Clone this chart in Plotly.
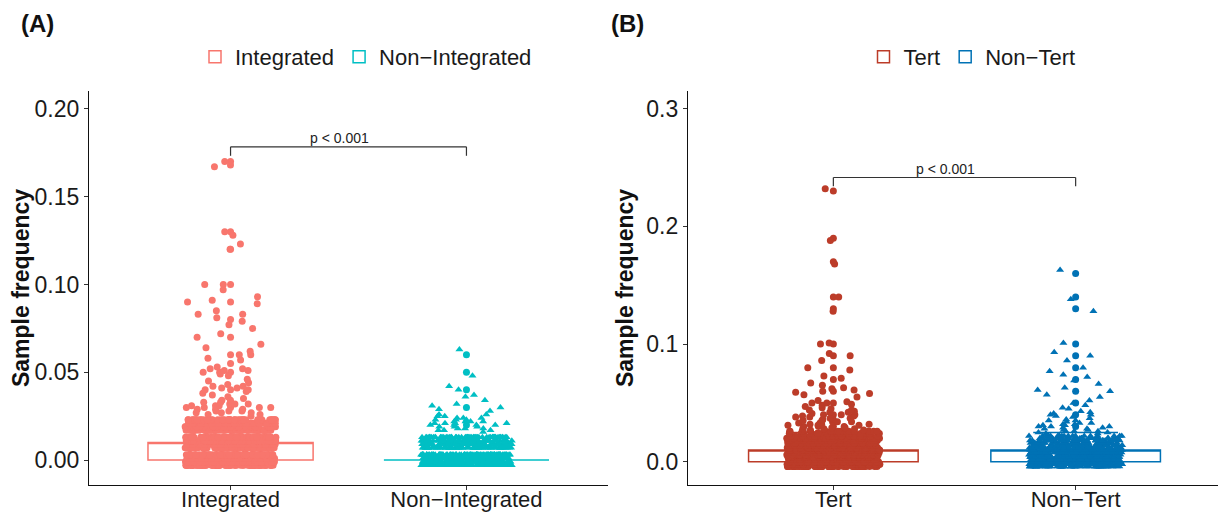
import numpy as np
import plotly.graph_objects as go

FONT = "Liberation Sans"

# ---------------- data (panel A) ----------------
A_CATS = ["Integrated", "Non\u2212Integrated"]
A_COLORS = ["#F8766D", "#00BFC4"]
A_SYMBOLS = ["circle", "triangle-up"]

# box statistics
A_Q1 = [0.0, 0.0]
A_MED = [0.01, 0.0]
A_Q3 = [0.01, 0.0]
A_LF = [0.0, 0.0]
A_UF = [0.02, 0.0]

# dense core: displayed levels and counts
INT_CORE_Y = [-0.003, -0.001, 0.001, 0.003, 0.007, 0.009, 0.011, 0.013, 0.017, 0.019, 0.021, 0.023]
INT_CORE_N = [75, 85, 85, 75, 70, 75, 75, 70, 60, 65, 55, 40]
INT_MID = [0.025, 0.026, 0.026, 0.027, 0.027, 0.027, 0.028, 0.028, 0.028, 0.029, 0.029, 0.029,
           0.030, 0.030, 0.030, 0.030, 0.031, 0.031, 0.031, 0.032, 0.032, 0.032, 0.033, 0.033,
           0.034, 0.034, 0.035, 0.036, 0.037, 0.038, 0.039, 0.040, 0.040, 0.041, 0.041, 0.042,
           0.042, 0.043, 0.044, 0.045, 0.046, 0.048, 0.049, 0.050, 0.050, 0.051, 0.051, 0.052,
           0.052, 0.053, 0.055, 0.057, 0.058, 0.060, 0.060]
INT_HIGH = [0.062, 0.064, 0.066, 0.070, 0.072, 0.075, 0.077, 0.079, 0.081, 0.083, 0.083, 0.085,
            0.089, 0.090, 0.091, 0.093, 0.097, 0.100, 0.100, 0.120, 0.123, 0.128, 0.130,
            0.167, 0.168, 0.170]
INT_OUT = [0.03, 0.04, 0.05, 0.06, 0.07, 0.08, 0.09, 0.10, 0.12, 0.13, 0.17]

NI_CORE_Y = [-0.003, -0.001, 0.001, 0.003, 0.007, 0.009, 0.011, 0.013]
NI_CORE_N = [95, 105, 105, 95, 65, 70, 70, 60]
NI_MID = [0.016, 0.017, 0.017, 0.017, 0.018, 0.018, 0.018, 0.019, 0.019, 0.019, 0.020, 0.020,
          0.020, 0.020, 0.021, 0.021, 0.021, 0.021, 0.022, 0.022, 0.022, 0.022, 0.023, 0.023,
          0.023, 0.024, 0.024, 0.024, 0.025, 0.025, 0.026, 0.026]
NI_HIGH = [0.028, 0.029, 0.030, 0.031, 0.032, 0.034, 0.036, 0.037, 0.040, 0.042, 0.048, 0.063]
NI_OUT = [0.01, 0.02, 0.03, 0.04, 0.05, 0.06]

# ---------------- data (panel B) ----------------
B_CATS = ["Tert", "Non\u2212Tert"]
B_COLORS = ["#BC3C29", "#0072B5"]
B_SYMBOLS = ["circle", "triangle-up"]

B_Q1 = [0.0, 0.0]
B_MED = [0.01, 0.01]
B_Q3 = [0.01, 0.01]
B_LF = [0.0, 0.0]
B_UF = [0.025, 0.025]

TERT_CORE_Y = [-0.004, -0.002, 0.000, 0.002, 0.004, 0.006, 0.008, 0.010, 0.012, 0.014,
               0.016, 0.018, 0.020, 0.022, 0.024, 0.026]
TERT_CORE_N = [60, 70, 70, 70, 62, 58, 62, 62, 56, 50, 45, 42, 36, 30, 24, 18]
TERT_MID = [0.026, 0.027, 0.027, 0.028, 0.028, 0.028, 0.029, 0.029, 0.030, 0.030, 0.030, 0.031,
            0.031, 0.031, 0.032, 0.032, 0.032, 0.033, 0.033, 0.034, 0.034, 0.034, 0.035, 0.035,
            0.036, 0.036, 0.037, 0.037, 0.038, 0.038, 0.039, 0.039, 0.040, 0.040, 0.040, 0.041,
            0.042, 0.042, 0.043, 0.044, 0.044, 0.045, 0.046, 0.047, 0.048, 0.049, 0.050, 0.050,
            0.051, 0.052]
TERT_HIGH = [0.055, 0.057, 0.058, 0.059, 0.060, 0.061, 0.062, 0.063, 0.065, 0.067, 0.071, 0.073,
             0.078, 0.080, 0.086, 0.090, 0.092, 0.100, 0.101, 0.128, 0.140, 0.168, 0.188, 0.232]
TERT_OUT = [0.03, 0.04, 0.05, 0.06, 0.07, 0.08, 0.09, 0.10, 0.13, 0.14, 0.17, 0.19, 0.23]

NT_CORE_Y = [-0.004, -0.002, 0.000, 0.002, 0.004, 0.006, 0.008, 0.010, 0.012, 0.014,
             0.016, 0.018, 0.020, 0.022]
NT_CORE_N = [62, 72, 72, 72, 62, 56, 56, 56, 50, 45, 40, 34, 26, 20]
NT_MID = [0.024, 0.024, 0.025, 0.025, 0.026, 0.026, 0.026, 0.027, 0.027, 0.028, 0.028, 0.029,
          0.029, 0.030, 0.030, 0.030, 0.031, 0.031, 0.032, 0.032, 0.033, 0.033, 0.034, 0.035,
          0.035, 0.036, 0.037, 0.038, 0.039, 0.040, 0.040, 0.041, 0.042, 0.043, 0.045, 0.046,
          0.048, 0.050, 0.052]
NT_HIGH = [0.055, 0.057, 0.060, 0.061, 0.063, 0.066, 0.069, 0.072, 0.074, 0.077, 0.080, 0.086,
           0.090, 0.093, 0.101, 0.128, 0.138, 0.163]
NT_OUT = [0.03, 0.04, 0.05, 0.06, 0.07, 0.08, 0.09, 0.10, 0.13, 0.14, 0.16]

P_LABEL = "p < 0.001"
A_BRACKET = [0.1784, 0.1733]
B_BRACKET = [0.2415, 0.2340]

A_YRANGE = [-0.0142, 0.2102]
B_YRANGE = [-0.0197, 0.315]
A_TICKS = [0.00, 0.05, 0.10, 0.15, 0.20]
A_TICKTEXT = ["0.00", "0.05", "0.10", "0.15", "0.20"]
B_TICKS = [0.0, 0.1, 0.2, 0.3]
B_TICKTEXT = ["0.0", "0.1", "0.2", "0.3"]

BOX_W = 0.7
JIT = 0.55
MSIZE = 7

fig = go.Figure()


def add_group(cat, color, symbol, xa, ya, leg, stats, core_y, core_n, bands, outliers):
    q1, med, q3, lf, uf = stats
    fig.add_trace(go.Box(
        x=[cat], q1=[q1], median=[med], q3=[q3], lowerfence=[lf], upperfence=[uf],
        name=cat, width=BOX_W, fillcolor="white", line=dict(color=color, width=1.5),
        boxpoints=False, xaxis=xa, yaxis=ya, legend=leg, showlegend=True, hoverinfo="skip"))
    # boxplot outliers at the centre
    fig.add_trace(go.Box(
        x=[cat] * len(outliers), y=outliers, name=cat, width=BOX_W,
        boxpoints="all", jitter=0, pointpos=0,
        fillcolor="rgba(0,0,0,0)", line=dict(color="rgba(0,0,0,0)", width=0),
        marker=dict(color=color, size=MSIZE, symbol="circle"),
        xaxis=xa, yaxis=ya, showlegend=False, hoverinfo="skip"))
    core = np.repeat(np.array(core_y), np.array(core_n))
    for vals in [core] + bands:
        vals = list(vals)
        fig.add_trace(go.Box(
            x=[cat] * len(vals), y=vals, name=cat, width=BOX_W,
            boxpoints="all", jitter=JIT, pointpos=0,
            fillcolor="rgba(0,0,0,0)", line=dict(color="rgba(0,0,0,0)", width=0),
            marker=dict(color=color, size=MSIZE, symbol=symbol),
            xaxis=xa, yaxis=ya, showlegend=False, hoverinfo="skip"))


add_group(A_CATS[0], A_COLORS[0], A_SYMBOLS[0], "x", "y", "legend",
          (A_Q1[0], A_MED[0], A_Q3[0], A_LF[0], A_UF[0]),
          INT_CORE_Y, INT_CORE_N, [INT_MID, INT_HIGH], INT_OUT)
add_group(A_CATS[1], A_COLORS[1], A_SYMBOLS[1], "x", "y", "legend",
          (A_Q1[1], A_MED[1], A_Q3[1], A_LF[1], A_UF[1]),
          NI_CORE_Y, NI_CORE_N, [NI_MID, NI_HIGH], NI_OUT)
add_group(B_CATS[0], B_COLORS[0], B_SYMBOLS[0], "x2", "y2", "legend2",
          (B_Q1[0], B_MED[0], B_Q3[0], B_LF[0], B_UF[0]),
          TERT_CORE_Y, TERT_CORE_N, [TERT_MID, TERT_HIGH], TERT_OUT)
add_group(B_CATS[1], B_COLORS[1], B_SYMBOLS[1], "x2", "y2", "legend2",
          (B_Q1[1], B_MED[1], B_Q3[1], B_LF[1], B_UF[1]),
          NT_CORE_Y, NT_CORE_N, [NT_MID, NT_HIGH], NT_OUT)

# page body has an 8px margin; the figure is sized and laid out to compensate
OFF = 8
W, H = 1226 - OFF, 514 - OFF


def fx(px):
    return (px - OFF) / W


def fy(py):
    return 1 - (py - OFF) / H


ydom = [fy(485), fy(91)]
axis_common = dict(showline=True, linecolor="#111", linewidth=1.2, ticks="outside", ticklen=4,
                   tickwidth=1, tickcolor="#333", showgrid=False, zeroline=False, automargin=False)
ytickfont = dict(family=FONT, size=23, color="#1a1a1a")
xtickfont = dict(family=FONT, size=22, color="#1a1a1a")
ytitle = dict(text="<b>Sample frequency</b>", font=dict(family=FONT, size=23, color="#111"), standoff=6)

fig.update_layout(
    width=W, height=H, margin=dict(l=0, r=0, t=0, b=0, autoexpand=False),
    paper_bgcolor="white", plot_bgcolor="white", boxmode="overlay",
    font=dict(family=FONT, color="#1a1a1a"),
    xaxis=dict(domain=[fx(89), fx(608)], type="category", categoryorder="array",
               categoryarray=A_CATS, range=[-0.6, 1.6], anchor="y", tickfont=xtickfont,
               ticklabelstandoff=-10, **axis_common),
    yaxis=dict(domain=ydom, range=A_YRANGE, tickvals=A_TICKS, ticktext=A_TICKTEXT, anchor="x",
               title=ytitle, tickfont=ytickfont, **axis_common),
    xaxis2=dict(domain=[fx(688), fx(1221)], type="category", categoryorder="array",
                categoryarray=B_CATS, range=[-0.6, 1.6], anchor="y2", tickfont=xtickfont,
                ticklabelstandoff=-10, **axis_common),
    yaxis2=dict(domain=ydom, range=B_YRANGE, tickvals=B_TICKS, ticktext=B_TICKTEXT, anchor="x2",
                title=ytitle, tickfont=ytickfont, **axis_common),
    legend=dict(orientation="h", x=fx(366), xanchor="center", y=fy(57), yanchor="middle",
                font=dict(family=FONT, size=22, color="#1a1a1a"), bgcolor="rgba(0,0,0,0)", itemwidth=30),
    legend2=dict(orientation="h", x=fx(972), xanchor="center", y=fy(57), yanchor="middle",
                 font=dict(family=FONT, size=22, color="#1a1a1a"), bgcolor="rgba(0,0,0,0)", itemwidth=30),
)

# significance brackets
for xr, yr, br in [("x", "y", A_BRACKET), ("x2", "y2", B_BRACKET)]:
    top, bot = br
    line = dict(color="#333", width=1.2)
    fig.add_shape(type="line", xref=xr, yref=yr, x0=0, x1=1, y0=top, y1=top, line=line)
    fig.add_shape(type="line", xref=xr, yref=yr, x0=0, x1=0, y0=top, y1=bot, line=line)
    fig.add_shape(type="line", xref=xr, yref=yr, x0=1, x1=1, y0=top, y1=bot, line=line)
    fig.add_annotation(xref=xr, yref=yr, x=0.5, y=top, text=P_LABEL, showarrow=False,
                       yanchor="bottom", xshift=-9, yshift=-1,
                       font=dict(family=FONT, size=14, color="#222"))

# panel labels
for lab, px in [("(A)", 19), ("(B)", 609)]:
    fig.add_annotation(xref="paper", yref="paper", x=fx(px), y=fy(23), text="<b>%s</b>" % lab,
                       showarrow=False, xanchor="left", yanchor="middle",
                       font=dict(family=FONT, size=24, color="#111"))

fig.write_html("out.html")
